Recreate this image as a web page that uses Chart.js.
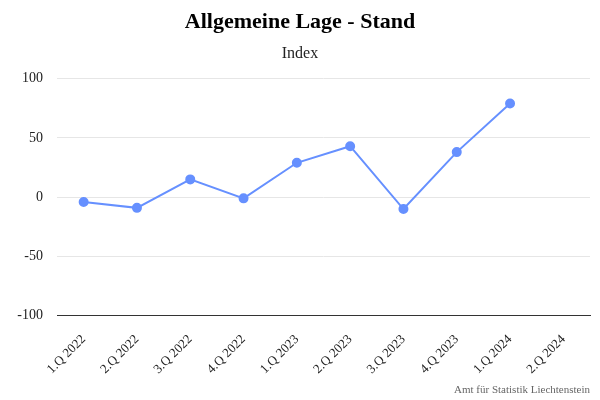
<!DOCTYPE html>
<html>
<head>
<meta charset="utf-8">
<script src="https://cdn.jsdelivr.net/npm/chart.js@4.4.1/dist/chart.umd.min.js"></script>
<style>
  html, body { margin: 0; padding: 0; background: #fff; }
  #wrap { width: 600px; height: 400px; }
</style>
</head>
<body>
<div id="wrap"><canvas id="chart" width="600" height="400"></canvas></div>
<script>
// Daten
const quartale = ['1.Q 2022', '2.Q 2022', '3.Q 2022', '4.Q 2022', '1.Q 2023',
                  '2.Q 2023', '3.Q 2023', '4.Q 2023', '1.Q 2024', '2.Q 2024'];
const stand = [-4, -9, 15, -1, 29, 43, -10, 38, 79, null];
const yTicks = [-100, -50, 0, 50, 100];

const fontFamily = '"Liberation Serif", "Times New Roman", serif';

// Quelle unten rechts
const credits = {
    id: 'credits',
    afterDraw(chart) {
        const ctx = chart.ctx;
        ctx.save();
        ctx.font = '11px ' + fontFamily;
        ctx.fillStyle = '#666';
        ctx.textAlign = 'right';
        ctx.textBaseline = 'bottom';
        ctx.fillText('Amt für Statistik Liechtenstein', 590, 396);
        ctx.restore();
    }
};

new Chart(document.getElementById('chart').getContext('2d'), {
    type: 'line',
    data: {
        labels: quartale,
        datasets: [{
            label: 'Stand',
            data: stand,
            borderColor: '#6690ff',
            backgroundColor: '#6690ff',
            borderWidth: 2,
            pointRadius: 4,
            pointHoverRadius: 4,
            tension: 0
        }]
    },
    options: {
        responsive: false,
        animation: false,
        layout: { padding: { left: 10, right: 10, top: 1, bottom: 7 } },
        plugins: {
            legend: { display: false },
            tooltip: { enabled: false },
            title: {
                display: true,
                text: 'Allgemeine Lage - Stand',
                color: '#000',
                font: { family: fontFamily, size: 22, weight: 'bold' },
                padding: { top: 8, bottom: 8 }
            },
            subtitle: {
                display: true,
                text: 'Index',
                color: '#222',
                font: { family: fontFamily, size: 16 },
                padding: { top: 1, bottom: 15 }
            }
        },
        scales: {
            x: {
                offset: true,
                grid: { display: false, drawTicks: false },
                border: { display: true, color: '#333', width: 1 },
                ticks: {
                    color: '#222',
                    font: { family: fontFamily, size: 13 },
                    maxRotation: 45,
                    minRotation: 45,
                    autoSkip: false,
                    padding: 16
                }
            },
            y: {
                min: -100,
                max: 100,
                afterBuildTicks(axis) { axis.ticks = yTicks.map(v => ({ value: v })); },
                afterFit(axis) { axis.width = 47; },
                grid: { color: '#e6e6e6', drawTicks: false },
                border: { display: false },
                ticks: {
                    color: '#222',
                    font: { family: fontFamily, size: 14 },
                    padding: 14
                }
            }
        }
    },
    plugins: [credits]
});
</script>
</body>
</html>
